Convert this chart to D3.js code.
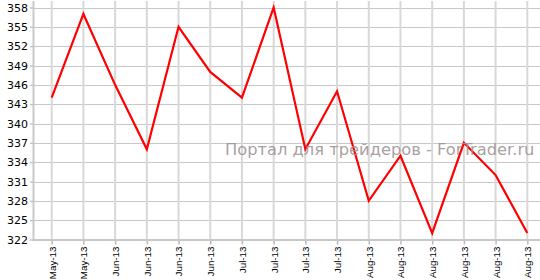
<!DOCTYPE html>
<html><head><meta charset="utf-8">
<script src="https://cdn.jsdelivr.net/npm/d3@7"></script>
<style>body{margin:0;background:#fff}svg{display:block}</style>
</head><body>
<svg id="c" width="540" height="280"></svg>
<script>
const labels = ["May-13","May-13","Jun-13","Jun-13","Jun-13","Jun-13","Jul-13","Jul-13","Jul-13","Jul-13","Aug-13","Aug-13","Aug-13","Aug-13","Aug-13","Aug-13"];
const values = [344,357,346,336,355,348,344,358,336,345,328,335,323,337,332,323];
const yTicks = [322,325,328,331,334,337,340,343,346,349,352,355,358];
const watermark = "Портал для трейдеров - ForTrader.ru";

(function () {
const svg = d3.select("#c");
const pl = 34, pt = 1, pb = 239.5, pr = 540;
const x = d3.scalePoint().domain(d3.range(labels.length)).range([51.7, 527.3]);
const y = d3.scaleLinear().domain([322, 358]).range([239.5, 7.5]);

// horizontal grid
svg.append("g").selectAll("line").data(yTicks.slice(1)).join("line")
  .attr("x1", pl).attr("x2", pr)
  .attr("y1", d => Math.round(y(d)) + 0.5).attr("y2", d => Math.round(y(d)) + 0.5)
  .attr("stroke", "#c8c8c8").attr("stroke-width", 1);
// vertical grid
svg.append("g").selectAll("line").data(d3.range(labels.length)).join("line")
  .attr("x1", d => x(d)).attr("x2", d => x(d))
  .attr("y1", pt).attr("y2", pb)
  .attr("stroke", "#d8d8d8").attr("stroke-width", 2);

// y axis
const ya = svg.append("g").attr("transform", `translate(${pl},0)`)
  .call(d3.axisLeft(y).tickValues(yTicks).tickSize(4).tickPadding(2).tickFormat(d3.format("d")));
ya.select(".domain").remove();
ya.selectAll(".tick line").attr("stroke", "#c0c8d0").attr("stroke-width", 1.5);
ya.selectAll(".tick text").attr("font-family", "DejaVu Sans, Verdana, sans-serif").attr("font-size", 11).attr("fill", "#000");
svg.append("line").attr("x1", pl - 0.5).attr("x2", pl - 0.5).attr("y1", pt).attr("y2", pb + 1)
  .attr("stroke", "#c8c8c8").attr("stroke-width", 2);

// x axis
const xa = svg.append("g").attr("transform", `translate(0,${pb})`)
  .call(d3.axisBottom(x).tickSize(5).tickFormat(i => labels[i]));
xa.select(".domain").remove();
xa.selectAll(".tick line").attr("stroke", "#b8b8b8").attr("stroke-width", 1.5);
xa.selectAll(".tick text")
  .attr("font-family", "Liberation Sans, Arial, sans-serif").attr("font-size", 9.8).attr("fill", "#000")
  .attr("text-anchor", "end").attr("dy", "0.35em")
  .attr("transform", "translate(0,3) rotate(-90)").attr("x", -4).attr("y", 0);
svg.append("line").attr("x1", pl - 1.5).attr("x2", pr).attr("y1", pb + 0.5).attr("y2", pb + 0.5)
  .attr("stroke", "#c8c8c8").attr("stroke-width", 2);

// line
svg.append("path").datum(values)
  .attr("d", d3.line().x((d, i) => x(i)).y(d => y(d)))
  .attr("fill", "none").attr("stroke", "#ff0000").attr("stroke-width", 2.2).attr("stroke-linejoin", "miter");

// watermark
svg.append("text").attr("x", 225).attr("y", 155)
  .attr("font-family", "DejaVu Sans, Verdana, sans-serif").attr("font-size", 16.3)
  .attr("fill", "#9e9494").attr("fill-opacity", 0.9).text(watermark);
})();
</script>
</body></html>
